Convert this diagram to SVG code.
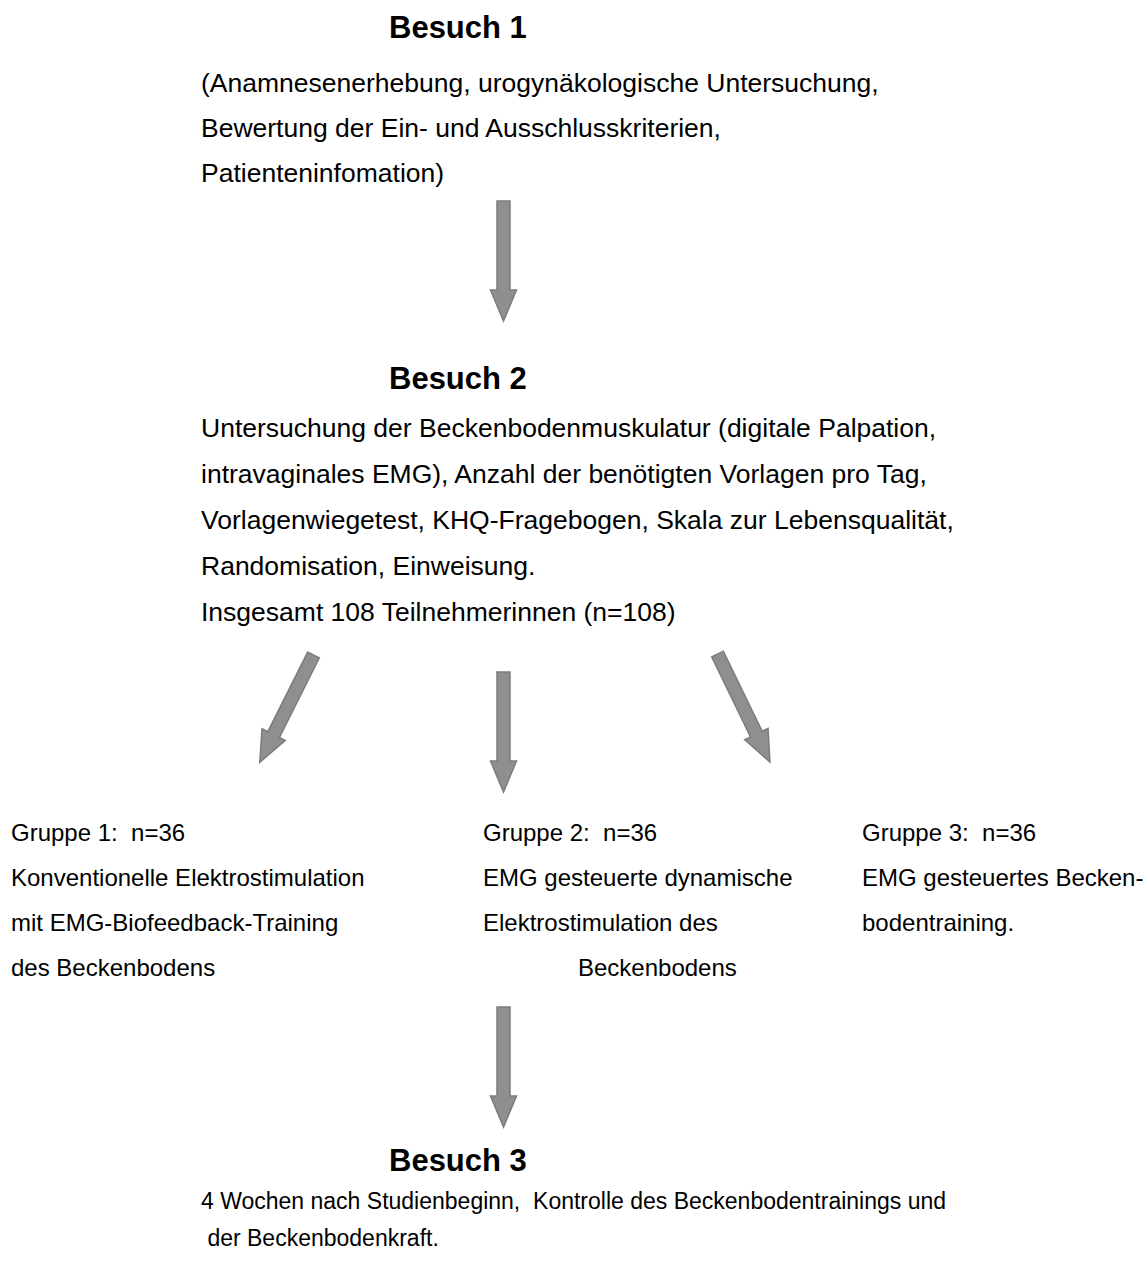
<svg xmlns="http://www.w3.org/2000/svg" width="1147" height="1263" viewBox="0 0 1147 1263">
<style>
text{font-family:"Liberation Sans",Arial,sans-serif;fill:#000;white-space:pre}
.h{font-size:31px;font-weight:bold}
.b{font-size:26.5px}
.g{font-size:24px}
.s{font-size:23px}
.arr{fill:#8f8f8f;stroke:#7c7c7c;stroke-width:1.5;stroke-linejoin:miter}
</style>
<defs>
<path id="ar" d="M-6.5,0 L6.5,0 L6.5,89 L13,89 L0,120 L-13,89 L-6.5,89 Z"/>
</defs>
<rect width="1147" height="1263" fill="#fff"/>
<g id="besuch1">
<text class="h" x="389" y="38">Besuch 1</text>
<text class="b" x="201" y="92">(Anamnesenerhebung, urogynäkologische Untersuchung,</text>
<text class="b" x="201" y="137">Bewertung der Ein- und Ausschlusskriterien,</text>
<text class="b" x="201" y="182">Patienteninfomation)</text>
</g>
<g id="besuch2">
<text class="h" x="389" y="389">Besuch 2</text>
<text class="b" x="201" y="437">Untersuchung der Beckenbodenmuskulatur (digitale Palpation,</text>
<text class="b" x="201" y="483">intravaginales EMG), Anzahl der benötigten Vorlagen pro Tag,</text>
<text class="b" x="201" y="529">Vorlagenwiegetest, KHQ-Fragebogen, Skala zur Lebensqualität,</text>
<text class="b" x="201" y="575">Randomisation, Einweisung.</text>
<text class="b" x="201" y="621">Insgesamt 108 Teilnehmerinnen (n=108)</text>
</g>
<g id="gruppe1">
<text class="g" x="11" y="841" xml:space="preserve">Gruppe 1:  n=36</text>
<text class="g" x="11" y="886">Konventionelle Elektrostimulation</text>
<text class="g" x="11" y="931">mit EMG-Biofeedback-Training</text>
<text class="g" x="11" y="976">des Beckenbodens</text>
</g>
<g id="gruppe2">
<text class="g" x="483" y="841" xml:space="preserve">Gruppe 2:  n=36</text>
<text class="g" x="483" y="886">EMG gesteuerte dynamische</text>
<text class="g" x="483" y="931">Elektrostimulation des</text>
<text class="g" x="578" y="976">Beckenbodens</text>
</g>
<g id="gruppe3">
<text class="g" x="862" y="841" xml:space="preserve">Gruppe 3:  n=36</text>
<text class="g" x="862" y="886">EMG gesteuertes Becken-</text>
<text class="g" x="862" y="931">bodentraining.</text>
</g>
<g id="besuch3">
<text class="h" x="389" y="1171">Besuch 3</text>
<text class="s" x="201" y="1209" xml:space="preserve">4 Wochen nach Studienbeginn,  Kontrolle des Beckenbodentrainings und</text>
<text class="s" x="201" y="1246" xml:space="preserve"> der Beckenbodenkraft.</text>
</g>
<g id="connectors">
<use href="#ar" class="arr" transform="translate(503.5,201)"/>
<use href="#ar" class="arr" transform="translate(503.5,672)"/>
<use href="#ar" class="arr" transform="translate(503.5,1007)"/>
<use href="#ar" class="arr" transform="translate(313.5,655) rotate(26.6)"/>
<use href="#ar" class="arr" transform="translate(717.5,654) rotate(-25.9)"/>
</g>
</svg>
